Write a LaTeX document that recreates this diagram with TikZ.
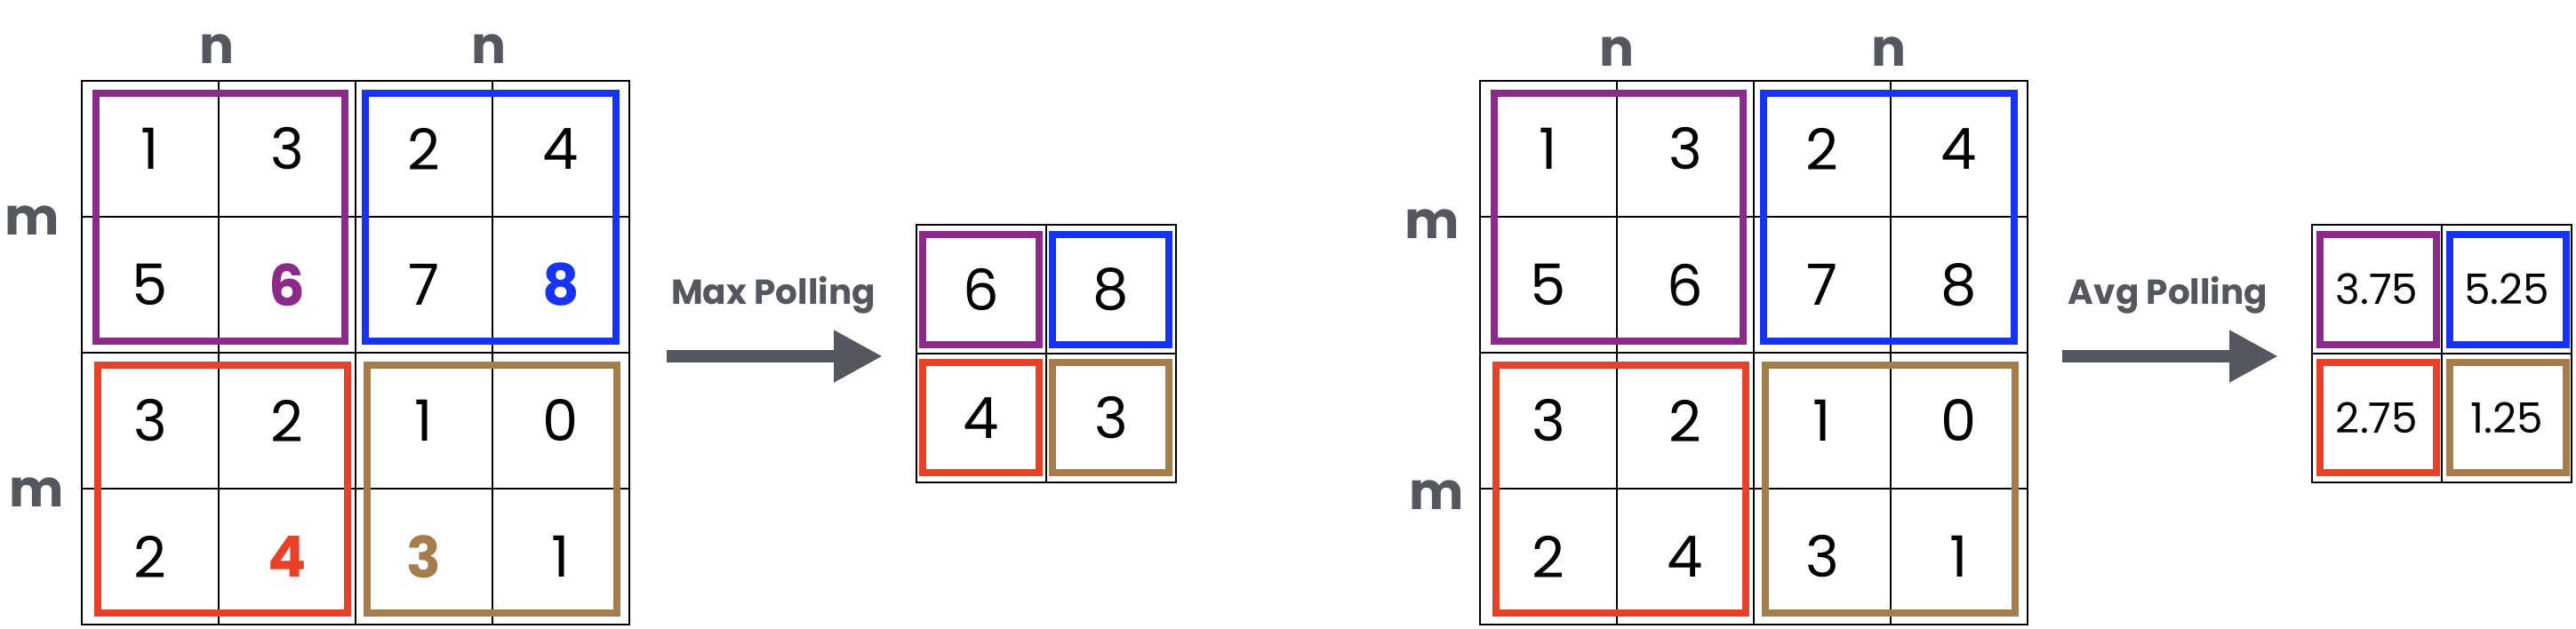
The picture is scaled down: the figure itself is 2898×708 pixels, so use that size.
\documentclass[tikz,border=0pt]{standalone}
\usepackage{fontspec}
\setmainfont{Poppins}
\newfontfamily\labfont{Poppins}
\usetikzlibrary{arrows.meta}
\definecolor{cpur}{HTML}{8B2A8B}
\definecolor{cblu}{HTML}{1733F5}
\definecolor{cred}{HTML}{E84128}
\definecolor{cbrn}{HTML}{A57C4B}
\definecolor{cgry}{HTML}{54585E}
\tikzset{
  cell/.style={draw=black, line width=2.5pt, minimum width=154pt, minimum height=153pt,
    inner sep=0pt, outer sep=0pt, font=\fontsize{64}{64}\selectfont},
  scell/.style={cell, minimum width=146pt, minimum height=145pt},
  dcell/.style={scell, font=\fontsize{47}{47}\selectfont},
  hi/.style={font=\bfseries\fontsize{64}{64}\selectfont},
  poolbox/.style={line width=8pt},
  axlabel/.style={text=cgry, font=\labfont\bfseries\fontsize{58}{58}\selectfont, inner sep=0pt},
  oplabel/.style={text=cgry, font=\labfont\bfseries\fontsize{39}{39}\selectfont, inner sep=0pt, anchor=base},
  poolarrow/.style={draw=cgry, line width=14pt, -{Triangle[length=55pt,width=55pt]}},
}
\begin{document}
\begin{tikzpicture}[x=1pt,y=-1pt]
\fill[white] (0,0) rectangle (2898,708);
\useasboundingbox (0,0) rectangle (2898,708);

% ---------- left input grid ----------
\node[cell] (A11) at (169,167.5) {1};
\node[cell] (A12) at (323,167.5) {3};
\node[cell] (A13) at (477,167.5) {2};
\node[cell] (A14) at (631,167.5) {4};
\node[cell] (A21) at (169,320.5) {5};
\node[cell,hi,text=cpur] (A22) at (323,320.5) {6};
\node[cell] (A23) at (477,320.5) {7};
\node[cell,hi,text=cblu] (A24) at (631,320.5) {8};
\node[cell] (A31) at (169,473.5) {3};
\node[cell] (A32) at (323,473.5) {2};
\node[cell] (A33) at (477,473.5) {1};
\node[cell] (A34) at (631,473.5) {0};
\node[cell] (A41) at (169,626.5) {2};
\node[cell,hi,text=cred] (A42) at (323,626.5) {4};
\node[cell,hi,text=cbrn] (A43) at (477,626.5) {3};
\node[cell] (A44) at (631,626.5) {1};

\draw[poolbox,cpur] (108,105) rectangle (388,384);
\draw[poolbox,cblu] (411,105) rectangle (693,384);
\draw[poolbox,cred] (110,411) rectangle (391,690);
\draw[poolbox,cbrn] (413,411) rectangle (694,690);

\node[axlabel] (An1) at (244,55) {n};
\node[axlabel] (An2) at (550,55) {n};
\node[axlabel] (Am1) at (36,248) {m};
\node[axlabel] (Am2) at (41,554) {m};

% ---------- max pooling ----------
\node[oplabel] (maxlab) at (870,342) {Max Polling};
\coordinate (maxs) at (750,401);
\coordinate (maxe) at (993,401);
\draw[poolarrow] (maxs) -- (maxe);

\node[scell] (B11) at (1104,325.5) {6};
\node[scell] (B12) at (1250,325.5) {8};
\node[scell] (B21) at (1104,470.5) {4};
\node[scell] (B22) at (1250,470.5) {3};

\draw[poolbox,cpur] (1038,264) rectangle (1169,388);
\draw[poolbox,cblu] (1184,264) rectangle (1315,388);
\draw[poolbox,cred] (1038,408) rectangle (1169,532);
\draw[poolbox,cbrn] (1184,408) rectangle (1315,532);

% ---------- right input grid ----------
\node[cell] (C11) at (1742,167.5) {1};
\node[cell] (C12) at (1896,167.5) {3};
\node[cell] (C13) at (2050,167.5) {2};
\node[cell] (C14) at (2204,167.5) {4};
\node[cell] (C21) at (1742,320.5) {5};
\node[cell] (C22) at (1896,320.5) {6};
\node[cell] (C23) at (2050,320.5) {7};
\node[cell] (C24) at (2204,320.5) {8};
\node[cell] (C31) at (1742,473.5) {3};
\node[cell] (C32) at (1896,473.5) {2};
\node[cell] (C33) at (2050,473.5) {1};
\node[cell] (C34) at (2204,473.5) {0};
\node[cell] (C41) at (1742,626.5) {2};
\node[cell] (C42) at (1896,626.5) {4};
\node[cell] (C43) at (2050,626.5) {3};
\node[cell] (C44) at (2204,626.5) {1};

\draw[poolbox,cpur] (1681,105) rectangle (1961,384);
\draw[poolbox,cblu] (1984,105) rectangle (2266,384);
\draw[poolbox,cred] (1683,411) rectangle (1964,690);
\draw[poolbox,cbrn] (1986,411) rectangle (2267,690);

\node[axlabel] (Cn1) at (1819,58) {n};
\node[axlabel] (Cn2) at (2125,58) {n};
\node[axlabel] (Cm1) at (1611,252) {m};
\node[axlabel] (Cm2) at (1616,557) {m};

% ---------- avg pooling ----------
\node[oplabel] (avglab) at (2439,342) {Avg Polling};
\coordinate (avgs) at (2320,401);
\coordinate (avge) at (2563,401);
\draw[poolarrow] (avgs) -- (avge);

\node[dcell] (D11) at (2674,325.5) {3.75};
\node[dcell] (D12) at (2820,325.5) {5.25};
\node[dcell] (D21) at (2674,470.5) {2.75};
\node[dcell] (D22) at (2820,470.5) {1.25};

\draw[poolbox,cpur] (2610,264) rectangle (2741,388);
\draw[poolbox,cblu] (2756,264) rectangle (2887,388);
\draw[poolbox,cred] (2610,408) rectangle (2741,532);
\draw[poolbox,cbrn] (2756,408) rectangle (2887,532);
\end{tikzpicture}
\end{document}
